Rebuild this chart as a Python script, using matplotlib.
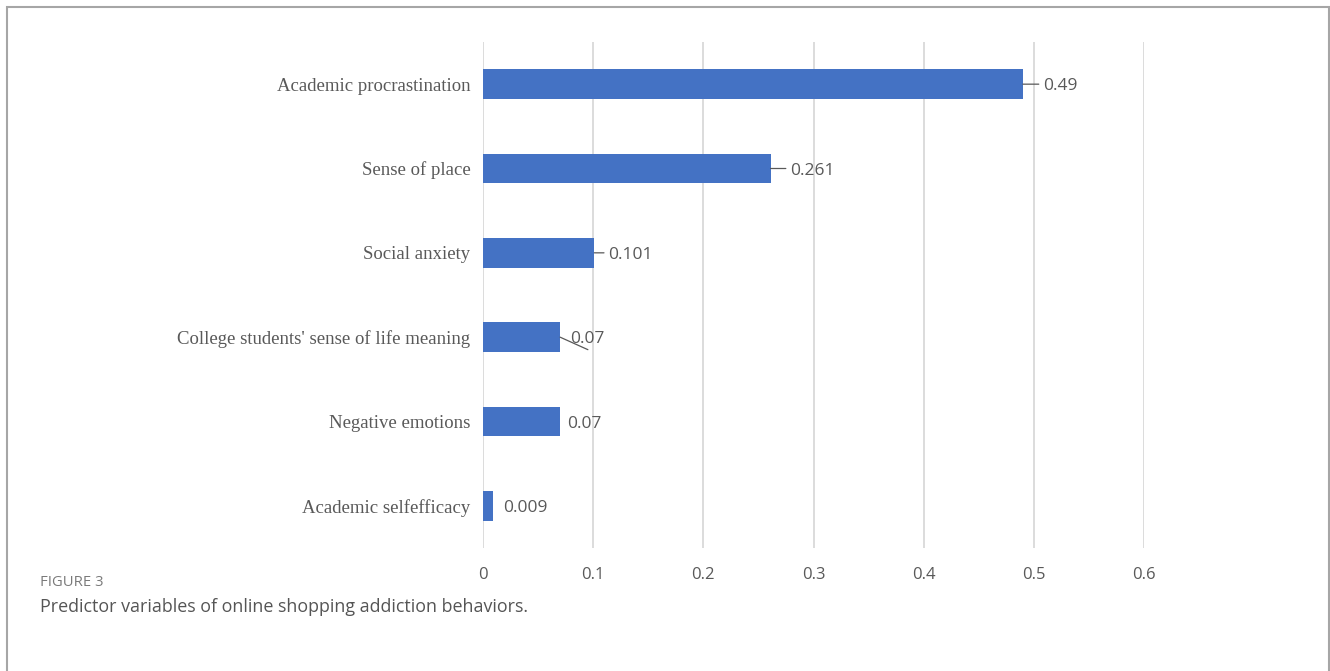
import matplotlib
matplotlib.use("Agg")
import matplotlib.pyplot as plt
from matplotlib.patches import Rectangle

# Predictor importance values
categories = [
    "Academic procrastination",
    "Sense of place",
    "Social anxiety",
    "College students' sense of life meaning",
    "Negative emotions",
    "Academic selfefficacy",
]
values = [0.49, 0.261, 0.101, 0.07, 0.07, 0.009]
value_labels = ["0.49", "0.261", "0.101", "0.07", "0.07", "0.009"]
xticks = [0, 0.1, 0.2, 0.3, 0.4, 0.5, 0.6]
xtick_labels = ["0", "0.1", "0.2", "0.3", "0.4", "0.5", "0.6"]

BAR = "#4472C4"
GREY = "#595959"
SANS = ["Open Sans", "DejaVu Sans"]
SERIF = ["Liberation Serif", "DejaVu Serif"]

W, H = 1330, 671
fig = plt.figure(figsize=(W / 100, H / 100), dpi=100)
ax = fig.add_axes([483 / W, 1 - 548 / H, (1144 - 483) / W, (548 - 42) / H])

ypos = list(range(len(categories)))
ax.barh(ypos, values, height=0.355, color=BAR, zorder=3)
ax.set_ylim(len(categories) - 0.5, -0.5)
ax.set_xlim(0, 0.6)

ax.set_xticks(xticks)
ax.set_xticklabels(xtick_labels, fontfamily=SANS, fontsize=12, color=GREY)
ax.set_yticks(ypos)
ax.set_yticklabels(categories, fontfamily=SERIF, fontsize=13.5, color=GREY)
ax.tick_params(axis="both", length=0)
ax.tick_params(axis="x", pad=14)
ax.tick_params(axis="y", pad=9)
ax.grid(axis="x", color="#d9d9d9", lw=1.3, zorder=0)
for s in ax.spines.values():
    s.set_visible(False)

# data labels: text offset (points) and leader line end (points) or None
text_off = [14.4, 14.4, 10, 7, 5, 7]
leader_end = [(11.5, 0), (11, 0), (7, 0), (20, -9), None, None]
for i, (v, lab) in enumerate(zip(values, value_labels)):
    ax.annotate(lab, xy=(v, i), xytext=(text_off[i], -1.5),
                textcoords="offset points", ha="left", va="center",
                fontsize=12.5, color=GREY, fontfamily=SANS, zorder=4)
    if leader_end[i] is not None:
        ax.annotate("", xy=(v, i), xytext=leader_end[i],
                    textcoords="offset points",
                    arrowprops=dict(arrowstyle="-", color=GREY, lw=0.9,
                                    shrinkA=0, shrinkB=0))

# caption
fig.text(40 / W, 1 - 582 / H, "FIGURE 3", fontfamily=SANS, fontsize=10.7,
         color="#7a7a7a", va="center", ha="left")
fig.text(40 / W, 1 - 607 / H,
         "Predictor variables of online shopping addiction behaviors.",
         fontfamily=SANS, fontsize=12.85, color="#555555", va="center", ha="left")

# outer frame
fig.patches.append(Rectangle((6.5 / W, -0.1), (1329 - 6.5) / W, 1 - 6.5 / H + 0.1,
                             transform=fig.transFigure, fill=False,
                             edgecolor="#a6a6a6", lw=1.5))

fig.savefig("out.png", dpi=100)
